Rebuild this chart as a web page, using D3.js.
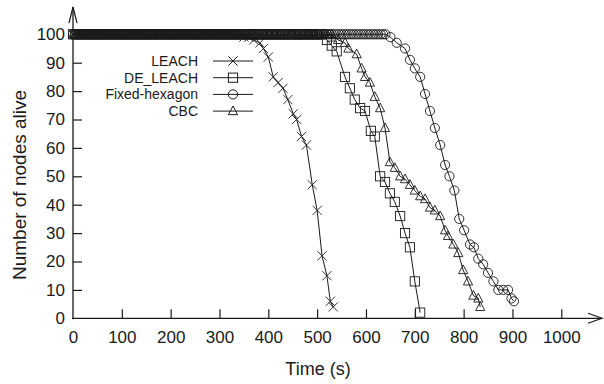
<!DOCTYPE html>
<html><head><meta charset="utf-8">
<script src="https://cdn.jsdelivr.net/npm/d3@7/dist/d3.min.js"></script>
<style>
html,body{margin:0;padding:0;background:#fff;}
svg{display:block;font-family:"Liberation Sans",Arial,Helvetica,sans-serif;}
</style></head>
<body>
<svg id="chart" width="604" height="384"></svg>
<script>
// ---- data: [time (s), nodes alive] ----
const seriesNames = ["LEACH", "DE_LEACH", "Fixed-hexagon", "CBC"];
const xTicks = [0,100,200,300,400,500,600,700,800,900,1000];
const yTicks = [0,10,20,30,40,50,60,70,80,90,100];

const leachData = [
[0,100],[5,100],[10,100],[15,100],[20,100],[25,100],[30,100],[35,100],[40,100],[45,100],
[50,100],[55,100],[60,100],[65,100],[70,100],[75,100],[80,100],[85,100],[90,100],[95,100],
[100,100],[105,100],[110,100],[115,100],[120,100],[125,100],[130,100],[135,100],[140,100],[145,100],
[150,100],[155,100],[160,100],[165,100],[170,100],[175,100],[180,100],[185,100],[190,100],[195,100],
[200,100],[205,100],[210,100],[215,100],[220,100],[225,100],[230,100],[235,100],[240,100],[245,100],
[250,100],[255,100],[260,100],[265,100],[270,100],[275,100],[280,100],[285,100],[290,100],[295,100],
[300,100],[305,100],[310,100],[315,100],[320,100],[325,100],[330,100],[335,100],[340,100],[345,100],
[350,99],[360,99],[370,98],[383,97],[390,95],[400,92],[410,85],[420,83],[430,81],[440,77],
[451,72],[458,70],[468,64],[478,61],[490,47],[500,38],[510,22],[520,15],[527,6],[533,4]];

const deLeachData = [
[0,100],[5,100],[10,100],[15,100],[20,100],[25,100],[30,100],[35,100],[40,100],[45,100],
[50,100],[55,100],[60,100],[65,100],[70,100],[75,100],[80,100],[85,100],[90,100],[95,100],
[100,100],[105,100],[110,100],[115,100],[120,100],[125,100],[130,100],[135,100],[140,100],[145,100],
[150,100],[155,100],[160,100],[165,100],[170,100],[175,100],[180,100],[185,100],[190,100],[195,100],
[200,100],[205,100],[210,100],[215,100],[220,100],[225,100],[230,100],[235,100],[240,100],[245,100],
[250,100],[255,100],[260,100],[265,100],[270,100],[275,100],[280,100],[285,100],[290,100],[295,100],
[300,100],[305,100],[310,100],[315,100],[320,100],[325,100],[330,100],[335,100],[340,100],[345,100],
[350,100],[355,100],[360,100],[365,100],[370,100],[375,100],[380,100],[385,100],[390,100],[395,100],
[400,100],[405,100],[410,100],[415,100],[420,100],[425,100],[430,100],[435,100],[440,100],[445,100],
[450,100],[455,100],[460,100],[465,100],[470,100],[475,100],[480,100],[485,100],[490,100],[495,100],
[500,100],[505,100],[510,100],
[520,98],[530,96],[540,94],[557,85],[567,81],[577,77],[588,74],[598,73],[610,66],[618,64],
[629,50],[639,48],[649,44],[659,41],[670,36],[680,30],[690,25],[700,13],[711,2]];

const hexagonData = [
[0,100],[5,100],[10,100],[15,100],[20,100],[25,100],[30,100],[35,100],[40,100],[45,100],
[50,100],[55,100],[60,100],[65,100],[70,100],[75,100],[80,100],[85,100],[90,100],[95,100],
[100,100],[105,100],[110,100],[115,100],[120,100],[125,100],[130,100],[135,100],[140,100],[145,100],
[150,100],[155,100],[160,100],[165,100],[170,100],[175,100],[180,100],[185,100],[190,100],[195,100],
[200,100],[205,100],[210,100],[215,100],[220,100],[225,100],[230,100],[235,100],[240,100],[245,100],
[250,100],[255,100],[260,100],[265,100],[270,100],[275,100],[280,100],[285,100],[290,100],[295,100],
[300,100],[305,100],[310,100],[315,100],[320,100],[325,100],[330,100],[335,100],[340,100],[345,100],
[350,100],[355,100],[360,100],[365,100],[370,100],[375,100],[380,100],[385,100],[390,100],[395,100],
[400,100],[405,100],[410,100],[415,100],[420,100],[425,100],[430,100],[435,100],[440,100],[445,100],
[450,100],[455,100],[460,100],[465,100],[470,100],[475,100],[480,100],[485,100],[490,100],[495,100],
[500,100],[505,100],[510,100],[515,100],[520,100],[525,100],[530,100],[535,100],[540,100],[545,100],
[550,100],[555,100],[560,100],[565,100],[570,100],[575,100],[580,100],[585,100],[590,100],[595,100],
[600,100],[605,100],[610,100],[615,100],[620,100],[625,100],[630,100],[635,100],[640,100],
[650,99],[663,97],[680,95],[690,91],[700,88],[711,85],[721,79],[731,73],[741,67],[752,61],
[762,54],[771,50],[781,45],[791,35],[801,31],[813,26],[821,25],[830,21],[840,19],[850,16],
[861,13],[871,10],[881,10],[891,10],[898,7],[903,6]];

const cbcData = [
[0,100],[5,100],[10,100],[15,100],[20,100],[25,100],[30,100],[35,100],[40,100],[45,100],
[50,100],[55,100],[60,100],[65,100],[70,100],[75,100],[80,100],[85,100],[90,100],[95,100],
[100,100],[105,100],[110,100],[115,100],[120,100],[125,100],[130,100],[135,100],[140,100],[145,100],
[150,100],[155,100],[160,100],[165,100],[170,100],[175,100],[180,100],[185,100],[190,100],[195,100],
[200,100],[205,100],[210,100],[215,100],[220,100],[225,100],[230,100],[235,100],[240,100],[245,100],
[250,100],[255,100],[260,100],[265,100],[270,100],[275,100],[280,100],[285,100],[290,100],[295,100],
[300,100],[305,100],[310,100],[315,100],[320,100],[325,100],[330,100],[335,100],[340,100],[345,100],
[350,100],[355,100],[360,100],[365,100],[370,100],[375,100],[380,100],[385,100],[390,100],[395,100],
[400,100],[405,100],[410,100],[415,100],[420,100],[425,100],[430,100],[435,100],[440,100],[445,100],
[450,100],[455,100],[460,100],[465,100],[470,100],[475,100],[480,100],[485,100],[490,100],[495,100],
[500,100],[505,100],[510,100],[515,100],[520,100],[525,100],[530,100],
[543,98],[557,97],[564,95],[581,93],[591,88],[598,85],[608,83],[618,78],[629,74],[639,67],
[649,55],[659,53],[670,50],[680,49],[690,47],[700,45],[711,43],[721,42],[731,39],[741,38],
[752,36],[762,31],[768,29],[779,26],[789,23],[799,17],[809,13],[820,8],[830,7],[834,4]];

const series = [
  {name: seriesNames[0], data: leachData,   marker: "cross"},
  {name: seriesNames[1], data: deLeachData, marker: "square"},
  {name: seriesNames[2], data: hexagonData, marker: "circle"},
  {name: seriesNames[3], data: cbcData,     marker: "triangle"}
];

// ---- layout ----
const svg = d3.select("#chart");
const X0 = 73, X1000 = 561.3, Y0 = 318.3, Y100 = 34.3;
const x = d3.scaleLinear().domain([0, 1000]).range([X0, X1000]);
const y = d3.scaleLinear().domain([0, 100]).range([Y0, Y100]);
const ink = "#1a1a1a";

// axes
const xAxis = svg.append("g").attr("transform", `translate(0,${Y0})`)
  .call(d3.axisBottom(x).tickValues(xTicks).tickSizeInner(-9).tickSizeOuter(0).tickPadding(13).tickFormat(d3.format("d")));
const yAxis = svg.append("g").attr("transform", `translate(${X0},0)`)
  .call(d3.axisLeft(y).tickValues(yTicks).tickSizeInner(-9).tickSizeOuter(0).tickPadding(8).tickFormat(d3.format("d")));
[xAxis, yAxis].forEach(g => {
  g.select(".domain").remove();
  g.selectAll(".tick line").attr("stroke", ink).attr("stroke-width", 1.2);
  g.selectAll(".tick text").attr("fill", ink).style("font-size", "17px")
   .style("font-family", "'Liberation Sans',Arial,sans-serif");
});
xAxis.selectAll(".tick").filter(d => d === 0).select("line").remove();
yAxis.selectAll(".tick").filter(d => d === 0).select("line").remove();

// axis lines with open arrows
svg.append("line").attr("x1", X0 - 1).attr("x2", 602).attr("y1", Y0).attr("y2", Y0)
  .attr("stroke", ink).attr("stroke-width", 1.3);
svg.append("path").attr("d", `M588,${Y0 - 5}L602,${Y0}L588,${Y0 + 5}`)
  .attr("fill", "none").attr("stroke", ink).attr("stroke-width", 1.2);
svg.append("line").attr("x1", X0).attr("x2", X0).attr("y1", Y0 + 1).attr("y2", 7)
  .attr("stroke", ink).attr("stroke-width", 1.3);
svg.append("path").attr("d", `M${X0 - 4},23L${X0},7L${X0 + 4},23`)
  .attr("fill", "none").attr("stroke", ink).attr("stroke-width", 1.2);

// axis titles
svg.append("text").attr("x", 318).attr("y", 375).attr("text-anchor", "middle")
  .attr("fill", ink).style("font-size", "18px").text("Time (s)");
svg.append("text").attr("transform", "translate(26,185) rotate(-90)").attr("text-anchor", "middle")
  .attr("fill", ink).style("font-size", "19px").text("Number of nodes alive");

// markers
function drawMarker(g, type, cx, cy) {
  const s = 4.6;
  if (type === "cross") {
    g.append("path").attr("d", `M${cx - s},${cy - s}L${cx + s},${cy + s}M${cx - s},${cy + s}L${cx + s},${cy - s}`);
  } else if (type === "square") {
    g.append("rect").attr("x", cx - s).attr("y", cy - s).attr("width", 2 * s).attr("height", 2 * s);
  } else if (type === "circle") {
    g.append("circle").attr("cx", cx).attr("cy", cy).attr("r", s);
  } else {
    g.append("path").attr("d", `M${cx},${cy - s - 0.5}L${cx + s},${cy + s - 1}L${cx - s},${cy + s - 1}Z`);
  }
}

const line = d3.line().x(d => x(d[0])).y(d => y(d[1]));
series.forEach(s => {
  const g = svg.append("g").attr("fill", "none").attr("stroke", ink).attr("stroke-width", 1);
  g.append("path").attr("d", line(s.data));
  const mg = g.append("g").attr("stroke-width", 0.9);
  s.data.forEach(p => drawMarker(mg, s.marker, x(p[0]), y(p[1])));
});

// legend
const legX = 198, legY0 = 61, legStep = 16.7;
series.forEach((s, i) => {
  const ly = legY0 + i * legStep;
  svg.append("text").attr("x", legX).attr("y", ly + 5).attr("text-anchor", "end")
    .attr("fill", ink).style("font-size", "14px").text(s.name);
  const g = svg.append("g").attr("fill", "none").attr("stroke", ink).attr("stroke-width", 1);
  g.append("line").attr("x1", 213).attr("x2", 253).attr("y1", ly).attr("y2", ly);
  drawMarker(g, s.marker, 233, ly);
});
</script>
</body></html>
